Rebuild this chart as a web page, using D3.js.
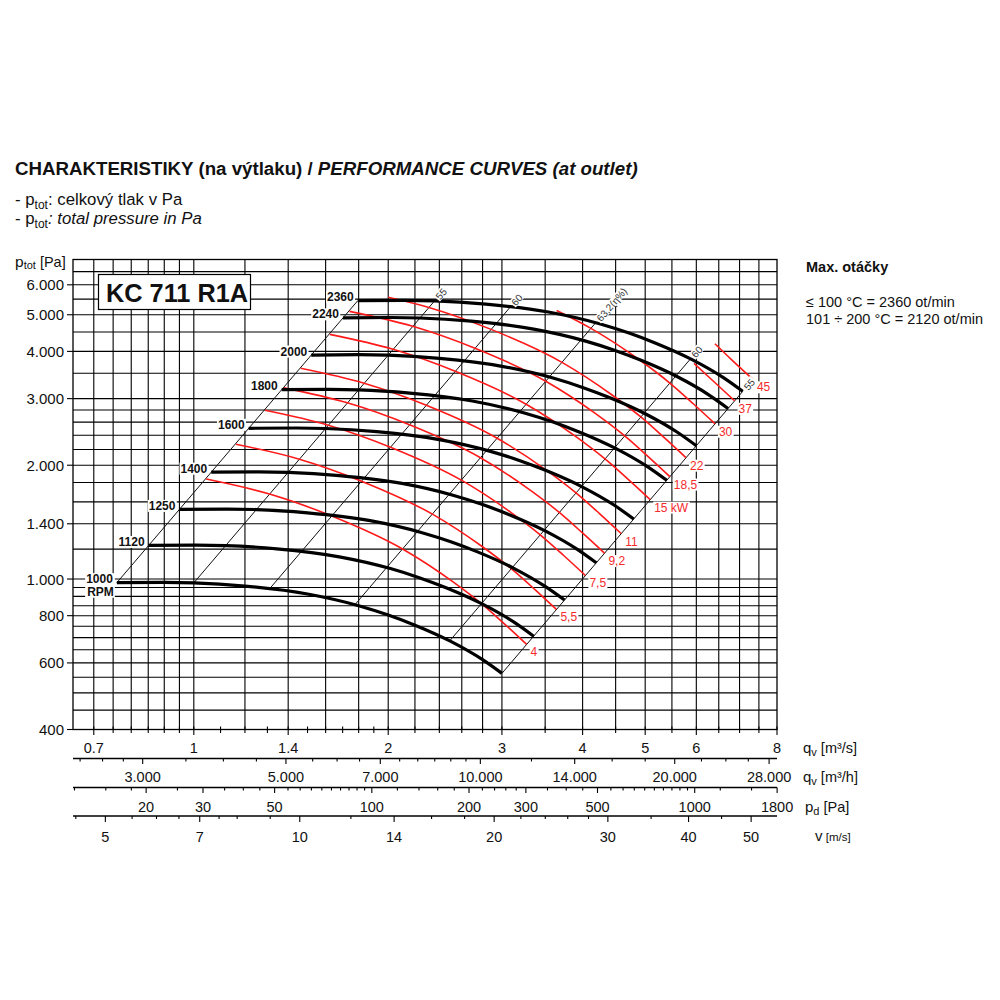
<!DOCTYPE html>
<html>
<head>
<meta charset="utf-8">
<script src="https://cdn.jsdelivr.net/npm/d3@7"></script>
<style>
  body { margin: 0; background: #fff; }
  svg { font-family: "Liberation Sans", Arial, sans-serif; }
</style>
</head>
<body>
<svg id="chart" width="1000" height="1000"></svg>
<script>
// ---- fan curves (q in m3/s, p_tot in Pa), one per speed ----
const rpmLabels = ["1000", "1120", "1250", "1400", "1600", "1800", "2000", "2240", "2360"];
const fan1000 = [[0.76,978],[0.9,980],[1.0,977],[1.2,958],[1.5,913],[1.8,850],[2.0,803],[2.2,755],[2.5,684],[2.8,612],[3.0,563]];
const fan1120 = [[0.851,1227],[1.008,1229],[1.12,1226],[1.344,1202],[1.68,1145],[2.016,1066],[2.24,1007],[2.464,947],[2.8,858],[3.136,768],[3.36,706]];
const fan1250 = [[0.95,1528],[1.125,1531],[1.25,1527],[1.5,1497],[1.875,1427],[2.25,1328],[2.5,1255],[2.75,1180],[3.125,1069],[3.5,956],[3.75,880]];
const fan1400 = [[1.064,1917],[1.26,1921],[1.4,1915],[1.68,1878],[2.1,1790],[2.52,1666],[2.8,1574],[3.08,1480],[3.5,1341],[3.92,1200],[4.2,1104]];
const fan1600 = [[1.216,2504],[1.44,2509],[1.6,2501],[1.92,2453],[2.4,2337],[2.88,2176],[3.2,2056],[3.52,1933],[4.0,1751],[4.48,1567],[4.8,1441]];
const fan1800 = [[1.368,3169],[1.62,3175],[1.8,3166],[2.16,3104],[2.7,2958],[3.24,2754],[3.6,2602],[3.96,2446],[4.5,2216],[5.04,1983],[5.4,1824]];
const fan2000 = [[1.52,3912],[1.8,3920],[2.0,3908],[2.4,3832],[3.0,3652],[3.6,3400],[4.0,3212],[4.4,3020],[5.0,2736],[5.6,2448],[6.0,2252]];
const fan2240 = [[1.702,4907],[2.016,4917],[2.24,4902],[2.688,4807],[3.36,4581],[4.032,4265],[4.48,4029],[4.928,3788],[5.6,3432],[6.272,3071],[6.72,2825]];
const fan2360 = [[1.794,5447],[2.124,5458],[2.36,5442],[2.832,5336],[3.54,5085],[4.248,4734],[4.72,4472],[5.192,4205],[5.9,3810],[6.608,3409],[7.08,3136]];
const fanCurves = [fan1000, fan1120, fan1250, fan1400, fan1600, fan1800, fan2000, fan2240, fan2360];

// ---- efficiency lines (from 1000 rpm curve up to 2360 rpm curve) ----
const effLabels = ["", "55", "60", "63,2(η%)", "60", "55"];
const effFrom = [[0.76,978],[1.0,977],[1.31,942],[1.776,855],[2.49,686],[3.0,563]];
const effTo = [[1.794,5447],[2.36,5442],[3.092,5245],[4.191,4762],[5.876,3821],[7.08,3136]];

// ---- motor power lines (kW) ----
const kwLabels = ["4", "5,5", "7,5", "9,2", "11", "15 kW", "18,5", "22", "30", "37", "45"];
const kw4 = [[1.045,1838],[1.31,1678],[1.635,1468],[2.105,1201],[2.514,986],[2.789,861],[3.032,759],[3.276,672]];
const kw5_5 = [[1.162,2273],[1.457,2075],[1.818,1815],[2.341,1485],[2.796,1219],[3.101,1065],[3.372,939],[3.643,831]];
const kw7_5 = [[1.289,2795],[1.615,2552],[2.016,2232],[2.596,1826],[3.1,1499],[3.439,1309],[3.739,1154],[4.04,1022]];
const kw9_2 = [[1.379,3203],[1.729,2924],[2.158,2558],[2.779,2093],[3.318,1718],[3.681,1500],[4.002,1322],[4.324,1171]];
const kw11 = [[1.464,3608],[1.835,3294],[2.291,2881],[2.949,2357],[3.522,1935],[3.907,1690],[4.248,1490],[4.59,1319]];
const kw15 = [[1.624,4436],[2.035,4050],[2.54,3543],[3.27,2899],[3.906,2380],[4.333,2078],[4.711,1832],[5.09,1622]];
const kw18_5 = [[1.742,5104],[2.183,4660],[2.725,4077],[3.508,3335],[4.19,2738],[4.648,2391],[5.053,2108],[5.459,1866]];
const kw22 = [[2.0,5562],[2.312,5228],[2.886,4574],[3.716,3742],[4.438,3072],[4.923,2683],[5.352,2365],[5.783,2094]];
const kw30 = [[3.646,5130],[4.12,4601],[4.921,3778],[5.459,3299],[5.935,2908],[6.412,2575]];
const kw37 = [[5.95,3717],[6.365,3345],[6.877,2961]];
const kw45 = [[6.412,4190],[6.794,3811],[7.341,3374]];
const kwCurves = [kw4, kw5_5, kw7_5, kw9_2, kw11, kw15, kw18_5, kw22, kw30, kw37, kw45];

// ---- grid and axes ----
const yTicks = [6000, 5000, 4000, 3000, 2000, 1400, 1000, 800, 600, 400];
const yGrid = [6500,6000,5500,5000,4500,4000,3500,3000,2800,2600,2400,2200,2000,1800,1600,1400,1200,1000,950,900,850,800,750,700,650,600,550,500,450];
const xGrid = [0.7,0.75,0.8,0.85,0.9,0.95,1,1.2,1.4,1.6,1.8,2,2.2,2.4,2.6,2.8,3,3.5,4,4.5,5,5.5,6,6.5,7,7.5];
const qsMajor = [0.7, 1, 1.4, 2, 3, 4, 5, 6, 8];
const qsMinor = [0.75,0.8,0.85,0.9,0.95,1.1,1.2,1.3,1.5,1.6,1.7,1.8,1.9,2.2,2.4,2.6,2.8,3.5,4.5,5.5,6.5,7,7.5];
const qhMajor = [3000, 5000, 7000, 10000, 14000, 20000, 28000];
const qhMinor = [2400,2600,2800,3500,4000,4500,5500,6000,6500,7500,8000,8500,9000,9500,12000,16000,18000,22000,24000,26000];
const pdMajor = [20, 30, 50, 100, 200, 300, 500, 1000, 1800];
const pdMinor = [12,15,18,25,35,40,45,55,60,65,70,75,80,85,90,95,120,140,160,180,220,240,260,280,350,400,450,550,600,650,700,750,800,850,900,950,1200,1500];
const vMajor = [5, 7, 10, 14, 20, 30, 40, 50];
const vMinor = [4.5,5.5,6,6.5,7.5,8,9,12,16,18,22,24,26,28,35,45];

const svg = d3.select("#chart");
const pL = 73, pR = 777, pT = 259.5, pB = 729.5;

const x = d3.scaleLog().domain([0.65, 8]).range([pL, pR]);
const y = d3.scaleLog().domain([400, 7000]).range([pB, pT]);
// secondary scales on the same q axis
const xh = d3.scaleLog().domain([0.65 * 3600, 8 * 3600]).range([pL, pR]);
const xpd = d3.scaleLog().domain([28.1 * 0.65 * 0.65, 28.1 * 64]).range([pL, pR]);
const xv = d3.scaleLog().domain([0.65 / 0.1459, 8 / 0.1459]).range([pL, pR]);

const thousands = d3.formatLocale({ decimal: ",", thousands: ".", grouping: [3], currency: ["", ""] }).format(",");

// Title and notes
const title = svg.append("text").attr("x", 15).attr("y", 174.5).attr("font-size", 18.7).attr("font-weight", "bold").attr("fill", "#111");
title.append("tspan").text("CHARAKTERISTIKY (na výtlaku) / ");
title.append("tspan").attr("font-style", "italic").text("PERFORMANCE CURVES (at outlet)");

const note = (yy, txt, italic) => {
    const t = svg.append("text").attr("x", 15).attr("y", yy).attr("font-size", 16.8).attr("fill", "#111");
    t.append("tspan").text("- p");
    t.append("tspan").attr("font-size", 12).attr("dy", 3.5).text("tot");
    t.append("tspan").attr("dy", -3.5).attr("font-style", italic ? "italic" : null).text(txt);
};
note(205, ": celkový tlak v Pa", false);
note(224, ": total pressure in Pa", true);

// Grid
const grid = svg.append("g").attr("stroke", "#000").attr("stroke-width", 1.1);
grid.selectAll(".hg").data(yGrid).join("line")
    .attr("x1", pL).attr("x2", pR)
    .attr("y1", (d) => y(d)).attr("y2", (d) => y(d));
grid.selectAll(".vg").data(xGrid).join("line")
    .attr("y1", pT).attr("y2", pB)
    .attr("x1", (d) => x(d)).attr("x2", (d) => x(d));
svg.append("rect").attr("x", pL).attr("y", pT).attr("width", pR - pL).attr("height", pB - pT)
    .attr("fill", "none").attr("stroke", "#000").attr("stroke-width", 1.3);

// Y axis
svg.append("g").selectAll("line").data(yTicks).join("line")
    .attr("x1", 67).attr("x2", pL).attr("y1", (d) => y(d)).attr("y2", (d) => y(d))
    .attr("stroke", "#000").attr("stroke-width", 1.1);
svg.append("g").selectAll("text").data(yTicks).join("text")
    .attr("x", 64).attr("y", (d) => y(d)).attr("text-anchor", "end").attr("dominant-baseline", "central")
    .attr("font-size", 15).attr("fill", "#111").text((d) => thousands(d));
const ylab = svg.append("text").attr("x", 15).attr("y", 267).attr("font-size", 15.5).attr("fill", "#111");
ylab.append("tspan").text("p");
ylab.append("tspan").attr("font-size", 11).attr("dy", 2).text("tot");
ylab.append("tspan").attr("dy", -2).attr("font-size", 14.5).text(" [Pa]");

// Bottom axes
const ticks = (scale, values, y1, y2) =>
    svg.append("g").selectAll("line").data(values).join("line")
        .attr("x1", (d) => scale(d)).attr("x2", (d) => scale(d))
        .attr("y1", y1).attr("y2", y2).attr("stroke", "#000").attr("stroke-width", 1.1);
const tickText = (scale, values, yy, fmt) =>
    svg.append("g").selectAll("text").data(values).join("text")
        .attr("x", (d) => scale(d)).attr("y", yy).attr("text-anchor", "middle").attr("dominant-baseline", "central")
        .attr("font-size", 14.5).attr("fill", "#111").text(fmt);
const axisLine = (yy) => svg.append("line").attr("x1", pL).attr("x2", pR).attr("y1", yy).attr("y2", yy)
    .attr("stroke", "#000").attr("stroke-width", 1.3);

// q_v [m3/s]
ticks(x, qsMinor, pB - 3, pB + 3.5);
ticks(x, qsMajor, pB - 3, pB + 5.5);
tickText(x, qsMajor, 748, (d) => String(d));
// q_v [m3/h]
const a2 = 758.5;
axisLine(a2);
ticks(xh, qhMinor, a2, a2 + 3);
ticks(xh, qhMajor, a2, a2 + 5.5);
tickText(xh, qhMajor, 777, (d) => thousands(d));
// p_d [Pa]
const a3 = 787.5;
axisLine(a3);
ticks(xpd, pdMinor, a3, a3 + 3);
ticks(xpd, pdMajor, a3, a3 + 5.5);
tickText(xpd, pdMajor, 807, (d) => String(d));
// v [m/s]
const a4 = 816;
axisLine(a4);
ticks(xv, vMinor, a4, a4 + 3);
ticks(xv, vMajor, a4, a4 + 6);
tickText(xv, vMajor, 836.5, (d) => String(d));

const axisName = (xx, yy, main, sub, rest, restSize) => {
    const t = svg.append("text").attr("x", xx).attr("y", yy).attr("font-size", 15).attr("fill", "#111");
    t.append("tspan").text(main);
    if (sub) t.append("tspan").attr("font-size", 11).attr("dy", 3).text(sub);
    t.append("tspan").attr("dy", sub ? -3 : 0).attr("font-size", restSize).text(rest);
};
axisName(803, 753, "q", "v", " [m³/s]", 14.5);
axisName(803, 782, "q", "v", " [m³/h]", 14.5);
axisName(805, 812, "p", "d", " [Pa]", 14.5);
axisName(815, 841, "v", "", " [m/s]", 11.5);

// Max speed note
svg.append("text").attr("x", 806).attr("y", 272).attr("font-size", 14.5).attr("font-weight", "bold").attr("fill", "#111").text("Max. otáčky");
svg.append("text").attr("x", 806).attr("y", 306.5).attr("font-size", 14.5).attr("fill", "#111").text("≤ 100 °C = 2360 ot/min");
svg.append("text").attr("x", 806).attr("y", 323.5).attr("font-size", 14.5).attr("fill", "#111").text("101 ÷ 200 °C = 2120 ot/min");

// Model box
svg.append("rect").attr("x", 98.5).attr("y", 274.5).attr("width", 152).attr("height", 35)
    .attr("fill", "#fff").attr("stroke", "#000").attr("stroke-width", 1.2);
svg.append("text").attr("x", 106).attr("y", 301.5).attr("font-size", 25.3).attr("font-weight", "bold")
    .attr("fill", "#111").text("KC 711 R1A");

// Efficiency lines
svg.append("g").selectAll("line").data(effFrom).join("line")
    .attr("x1", (d) => x(d[0])).attr("y1", (d) => y(d[1]))
    .attr("x2", (d, i) => x(effTo[i][0])).attr("y2", (d, i) => y(effTo[i][1]))
    .attr("stroke", "#111").attr("stroke-width", 1);

const line = d3.line().x((d) => x(d[0])).y((d) => y(d[1])).curve(d3.curveMonotoneX);

// Power lines
svg.append("g").selectAll("path").data(kwCurves).join("path")
    .attr("d", line).attr("fill", "none").attr("stroke", "#ff1a1a").attr("stroke-width", 1.6);

// Fan curves
svg.append("g").selectAll("path").data(fanCurves).join("path")
    .attr("d", line).attr("fill", "none").attr("stroke", "#000").attr("stroke-width", 3.2);

// Labels with white background (lines: array of strings, drawn 12.5px apart)
const bgLabel = (xx, yy, lines, o) => {
    const g = svg.append("g").attr("transform", `translate(${xx},${yy})` + (o.rotate ? ` rotate(${o.rotate})` : ""));
    const r = g.append("rect").attr("fill", "#fff");
    const t = g.append("text").attr("text-anchor", o.anchor).attr("dominant-baseline", "central")
        .attr("font-size", o.size).attr("font-weight", o.bold ? "bold" : null).attr("fill", o.color);
    [].concat(lines).forEach((s, k) => t.append("tspan").attr("x", k ? 1 : 0).attr("dy", k ? 12.5 : 0).text(s));
    const b = t.node().getBBox();
    r.attr("x", b.x - 1).attr("y", b.y + 1).attr("width", b.width + 2).attr("height", b.height - 2);
};

fanCurves.forEach((c, i) => {
    const sx = x(c[0][0]), sy = y(c[0][1]);
    bgLabel(sx - 4, sy - 3.5, i === 0 ? [rpmLabels[i], "RPM"] : rpmLabels[i], { anchor: "end", size: 12, bold: true, color: "#111" });
});

kwCurves.forEach((c, i) => {
    const e = c[c.length - 1];
    bgLabel(x(e[0]) + 4, y(e[1]) + 8, kwLabels[i], { anchor: "start", size: 12, color: "#f52a2a" });
});

effFrom.forEach((d, i) => {
    if (!effLabels[i]) return;
    const x1 = x(d[0]), y1 = y(d[1]), x2 = x(effTo[i][0]), y2 = y(effTo[i][1]);
    const ang = Math.atan2(y1 - y2, x2 - x1);
    const px = x2 + 4 * Math.cos(ang), py = y2 - 4 * Math.sin(ang);
    bgLabel(px, py, effLabels[i], { anchor: "start", size: 10, color: "#333", rotate: -ang * 180 / Math.PI });
});
</script>
</body>
</html>
